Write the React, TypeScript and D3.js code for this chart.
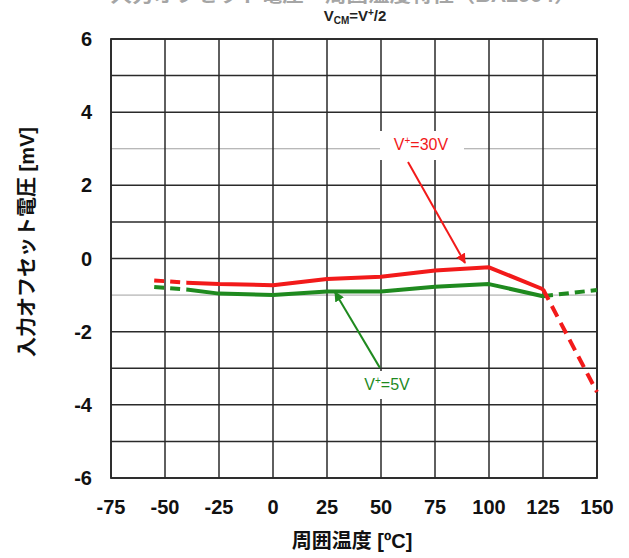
import React from "react";
import * as d3 from "d3";

const xTicks = [-75, -50, -25, 0, 25, 50, 75, 100, 125, 150];
const yTicks = [-6, -4, -2, 0, 2, 4, 6];
const yGrid = [-6, -5, -4, -3, -2, -1, 0, 1, 2, 3, 4, 5, 6];
const lightGrid = [3, -1];

const temps = [-55, -40, -25, 0, 25, 50, 75, 100, 125, 150];
const red30V = [-0.6, -0.66, -0.7, -0.73, -0.56, -0.5, -0.33, -0.24, -0.84, -3.65];
const green5V = [-0.78, -0.85, -0.96, -1.0, -0.9, -0.9, -0.77, -0.7, -1.03, -0.86];

// index ranges: dashed head, solid body, dashed tail
const solidStart = 1;
const solidEnd = 8;

const redArrow = [[62.5, 2.64], [88.9, -0.12]];
const greenArrow = [[49.5, -2.99], [28.7, -0.92]];

const W = 629;
const H = 558;

export default function App() {
  const x = d3.scaleLinear().domain([-75, 150]).range([111, 597]);
  const y = d3.scaleLinear().domain([-6, 6]).range([478, 39]);

  const mk = (vals: number[], a: number, b: number) => {
    const pts: [number, number][] = [];
    for (let i = a; i <= b; i++) pts.push([x(temps[i]), y(vals[i])]);
    return d3.line()(pts) as string;
  };

  const font = "Arial, 'Liberation Sans', sans-serif";
  const cjk = "Arial, 'Liberation Sans', 'Noto Sans CJK JP', sans-serif";
  const red = "#f21a1a";
  const green = "#1f8a1f";

  return (
    <svg
      width={W}
      height={H}
      style={{ position: "absolute", left: 0, top: 0, background: "#fff" }}
    >
      <defs>
        <marker id="arrR" viewBox="0 0 10 10" refX="9" refY="5" markerWidth="5" markerHeight="5" orient="auto">
          <path d="M0,0 L10,5 L0,10 z" fill={red} />
        </marker>
        <marker id="arrG" viewBox="0 0 10 10" refX="9" refY="5" markerWidth="5" markerHeight="5" orient="auto">
          <path d="M0,0 L10,5 L0,10 z" fill={green} />
        </marker>
      </defs>
      <rect x={0} y={0} width={W} height={H} fill="#fff" />

      {/* cut-off title */}
      <text
        x={343}
        y={2}
        textAnchor="middle"
        fontFamily={cjk}
        fontWeight="bold"
        fontSize={18}
        fill="#a5a5a5"
        textLength={465}
        lengthAdjust="spacingAndGlyphs"
      >
        入力オフセット電圧－周囲温度特性（BA2904）
      </text>
      <text x={355} y={21} textAnchor="middle" fontFamily={font} fontWeight="bold" fontSize={15} fill="#222">
        V<tspan fontSize={10} dy={3}>CM</tspan>
        <tspan dy={-3}>=V</tspan>
        <tspan fontSize={10} dy={-5}>+</tspan>
        <tspan dy={5}>/2</tspan>
      </text>

      {/* grid */}
      {yGrid.map((v) => (
        <line
          key={"h" + v}
          x1={x(-75)}
          x2={x(150)}
          y1={y(v)}
          y2={y(v)}
          stroke={lightGrid.includes(v) ? "#a0a0a0" : "#2a2a2a"}
          strokeWidth={lightGrid.includes(v) ? 1 : 1.5}
        />
      ))}
      {xTicks.map((v) => (
        <line key={"v" + v} x1={x(v)} x2={x(v)} y1={y(-6)} y2={y(6)} stroke="#2a2a2a" strokeWidth={1.5} />
      ))}
      <rect x={x(-75)} y={y(6)} width={x(150) - x(-75)} height={y(-6) - y(6)} fill="none" stroke="#2a2a2a" strokeWidth={1.8} />

      {/* label boxes */}
      <rect x={380} y={131} width={84} height={29} fill="#fff" />
      <rect x={356} y={371} width={62} height={28} fill="#fff" />

      {/* data */}
      <path d={mk(green5V, 0, solidStart)} fill="none" stroke={green} strokeWidth={4} strokeDasharray="10,6" />
      <path d={mk(green5V, solidStart, solidEnd)} fill="none" stroke={green} strokeWidth={4} strokeLinejoin="round" />
      <path d={mk(green5V, solidEnd, temps.length - 1)} fill="none" stroke={green} strokeWidth={4} strokeDasharray="10,6" />
      <path d={mk(red30V, 0, solidStart)} fill="none" stroke={red} strokeWidth={4} strokeDasharray="10,6" />
      <path d={mk(red30V, solidStart, solidEnd)} fill="none" stroke={red} strokeWidth={4} strokeLinejoin="round" />
      <path d={mk(red30V, solidEnd, temps.length - 1)} fill="none" stroke={red} strokeWidth={4} strokeDasharray="12,7" />

      {/* annotations */}
      <line
        x1={x(redArrow[0][0])}
        y1={y(redArrow[0][1])}
        x2={x(redArrow[1][0])}
        y2={y(redArrow[1][1])}
        stroke={red}
        strokeWidth={2}
        markerEnd="url(#arrR)"
      />
      <text x={421} y={150} textAnchor="middle" fontFamily={font} fontSize={16} fill={red}>
        V<tspan fontSize={10} dy={-6}>+</tspan>
        <tspan dy={6}>=30V</tspan>
      </text>
      <line
        x1={x(greenArrow[0][0])}
        y1={y(greenArrow[0][1])}
        x2={x(greenArrow[1][0])}
        y2={y(greenArrow[1][1])}
        stroke={green}
        strokeWidth={2}
        markerEnd="url(#arrG)"
      />
      <text x={387} y={390} textAnchor="middle" fontFamily={font} fontSize={16} fill={green}>
        V<tspan fontSize={10} dy={-6}>+</tspan>
        <tspan dy={6}>=5V</tspan>
      </text>

      {/* ticks */}
      {yTicks.map((v) => (
        <text
          key={"yt" + v}
          x={92}
          y={y(v) + 7}
          textAnchor="end"
          fontFamily={font}
          fontWeight="bold"
          fontSize={20}
          fill="#111"
        >
          {v}
        </text>
      ))}
      {xTicks.map((v) => (
        <text
          key={"xt" + v}
          x={x(v)}
          y={514}
          textAnchor="middle"
          fontFamily={font}
          fontWeight="bold"
          fontSize={20}
          fill="#111"
        >
          {v}
        </text>
      ))}

      {/* axis titles */}
      <text x={352} y={548} textAnchor="middle" fontFamily={cjk} fontWeight="bold" fontSize={20} fill="#111">
        周囲温度 [ºC]
      </text>
      <text
        transform="translate(34,242) rotate(-90)"
        textAnchor="middle"
        fontFamily={cjk}
        fontWeight="bold"
        fontSize={20}
        fill="#111"
      >
        入力オフセット電圧 [mV]
      </text>
    </svg>
  );
}
